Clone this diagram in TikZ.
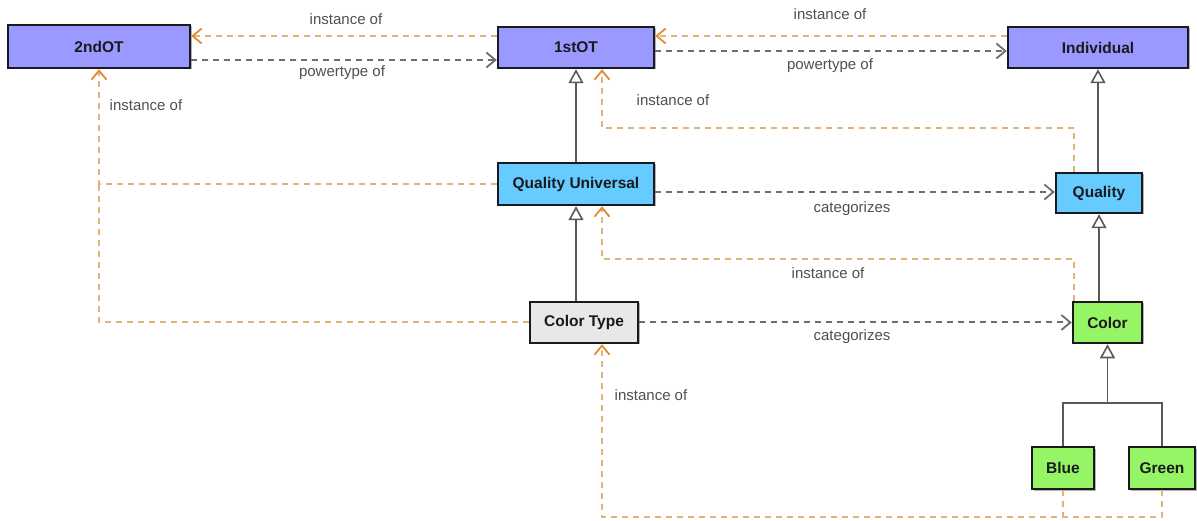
\documentclass[tikz,border=0pt]{standalone}
\usepackage{fontspec}
\setmainfont{Liberation Sans}
\usetikzlibrary{arrows.meta,shadows}

\definecolor{otblue}{RGB}{153,153,255}
\definecolor{qblue}{RGB}{102,204,255}
\definecolor{cgreen}{RGB}{150,245,100}
\definecolor{ctgray}{RGB}{232,232,232}
\definecolor{instline}{RGB}{224,180,122}
\definecolor{insttip}{RGB}{226,140,50}
\definecolor{ptline}{RGB}{110,110,110}
\definecolor{labelgray}{RGB}{80,80,80}
\definecolor{boxedge}{RGB}{25,25,30}

\begin{document}
\begin{tikzpicture}[x=1pt,y=-1pt,
  cls/.style={draw=boxedge, line width=2.5pt, inner sep=0pt,
    font=\fontsize{15.5}{18}\selectfont\bfseries, text=boxedge,
    drop shadow={shadow xshift=1.5pt, shadow yshift=-1.5pt, opacity=0.3, fill=black}},
  inst/.style={draw=instline, line width=2pt, dash pattern=on 6pt off 5pt,
    -{Straight Barb[length=9pt,width=15pt,line width=1.8pt,color=insttip]}},
  instplain/.style={draw=instline, line width=2pt, dash pattern=on 6pt off 5pt},
  ptype/.style={draw=ptline, line width=2pt, dash pattern=on 6pt off 5pt,
    -{Straight Barb[length=9pt,width=15pt,line width=1.8pt]}},
  gen/.style={draw=black!65, line width=1.8pt,
    -{Triangle[length=14pt,width=15pt,line width=1.6pt,fill=white]}},
  genline/.style={draw=black!65, line width=1.8pt},
  lbl/.style={font=\fontsize{15}{18}\selectfont, text=labelgray, inner sep=1pt}
]
\fill[white] (0,0) rectangle (1197,521);
\useasboundingbox (0,0) rectangle (1197,521);

% classes
\node[cls, fill=otblue, minimum width=182pt, minimum height=43pt] (second) at (99,46.5) {2ndOT};
\node[cls, fill=otblue, minimum width=156pt, minimum height=41pt] (first) at (576,47.5) {1stOT};
\node[cls, fill=otblue, minimum width=180pt, minimum height=41pt] (ind) at (1098,47.5) {Individual};
\node[cls, fill=qblue, minimum width=156pt, minimum height=42pt] (qu) at (576,184) {Quality Universal};
\node[cls, fill=qblue, minimum width=86pt, minimum height=40pt] (quality) at (1099,193) {Quality};
\node[cls, fill=ctgray, minimum width=108pt, minimum height=41pt] (ct) at (584,322.5) {Color Type};
\node[cls, fill=cgreen, minimum width=69pt, minimum height=41pt] (color) at (1107.5,322.5) {Color};
\node[cls, fill=cgreen, minimum width=62pt, minimum height=42pt] (blue) at (1063,468) {Blue};
\node[cls, fill=cgreen, minimum width=66pt, minimum height=42pt] (green) at (1162,468) {Green};

% routing levels
\coordinate (yA) at (0,36);
\coordinate (yB) at (0,60);
\coordinate (yC) at (0,51);
\coordinate (yQ) at (0,192);
\coordinate (yT) at (0,403);
\coordinate (y1) at (0,128);
\coordinate (y2) at (0,259);
\coordinate (y3) at (0,517);
\coordinate (xL) at (602,0);
\coordinate (xR) at (1074,0);

% top row: instance of / powertype of
\draw[inst] (first.west |- yA) -- (second.east |- yA);
\draw[ptype] (second.east |- yB) -- (first.west |- yB);
\draw[inst] (ind.west |- yA) -- (first.east |- yA);
\draw[ptype] (first.east |- yC) -- (ind.west |- yC);

% specialisation
\draw[gen] (qu.north) -- (first.south);
\draw[gen] (ct.north -| qu.south) -- (qu.south);
\draw[gen] (quality.north -| ind.south) -- (ind.south);
\draw[gen] (color.north -| quality.south) -- (quality.south);
\draw[genline] (blue.north) |- (green.north |- yT) -- (green.north);
\draw[gen] (color.south |- yT) -- (color.south);

% categorizes
\draw[ptype] (qu.east |- yQ) -- (quality.west |- yQ);
\draw[ptype] (ct.east) -- (color.west);

% instance of, routed
\draw[inst] (qu.west) -| (second.south);
\draw[instplain] (ct.west) -| (second.south |- qu.west);
\draw[inst] (quality.north -| xR) |- (xL |- y1) -- (xL |- first.south);
\draw[inst] (color.north -| xR) |- (xL |- y2) -- (xL |- qu.south);
\draw[inst] (blue.south) |- (xL |- y3) -- (xL |- ct.south);
\draw[instplain] (green.south) |- (blue.south |- y3);

% connector labels
\node[lbl] (l1) at (346,19) {instance of};
\node[lbl] (l2) at (342,73) {powertype of};
\node[lbl] (l3) at (830,14) {instance of};
\node[lbl] (l4) at (830,66) {powertype of};
\node[lbl] (l5) at (146,105) {instance of};
\node[lbl] (l6) at (673,100) {instance of};
\node[lbl] (l7) at (852,209) {categorizes};
\node[lbl] (l8) at (828,273) {instance of};
\node[lbl] (l9) at (852,337) {categorizes};
\node[lbl] (l10) at (651,395) {instance of};
\end{tikzpicture}
\end{document}
